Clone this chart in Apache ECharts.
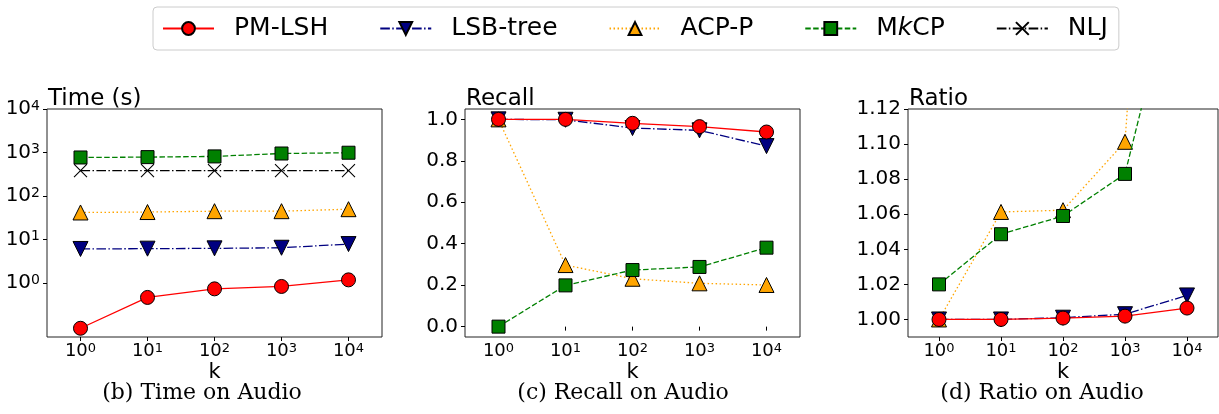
<!DOCTYPE html>
<html>
<head>
<meta charset="utf-8">
<script src="https://cdn.jsdelivr.net/npm/echarts@6/dist/echarts.min.js"></script>
<style>
html, body { margin: 0; padding: 0; background: #ffffff; }
#chart { width: 1219px; height: 414px; }
</style>
</head>
<body>
<div id="chart"></div>
<script>
// k values on the x axis (shown as 10^0 .. 10^4)
var kValues = [1, 10, 100, 1000, 10000]
var methods = ['PM-LSH', 'LSB-tree', 'ACP-P', 'MkCP', 'NLJ']
var panelTitles = ['Time (s)', 'Recall', 'Ratio']
var captions = ['(b) Time on Audio', '(c) Recall on Audio', '(d) Ratio on Audio']

// y tick values for the three panels
var timeTicks = [1, 10, 100, 1000, 10000]
var recallTicks = [0, 0.2, 0.4, 0.6, 0.8, 1.0]
var ratioTicks = [1.00, 1.02, 1.04, 1.06, 1.08, 1.10, 1.12]

// (b) time, seconds, log scale
var timePM = [0.092, 0.47, 0.74, 0.84, 1.19]
var timeLSB = [6.1, 6.2, 6.3, 6.5, 7.9]
var timeACP = [42, 43, 45, 45, 50]
var timeMkCP = [770, 785, 815, 950, 990]
var timeNLJ = [385, 385, 385, 385, 385]

// (c) recall
var recallPM = [1.0, 1.0, 0.981, 0.965, 0.939]
var recallLSB = [1.0, 0.998, 0.958, 0.947, 0.871]
var recallACP = [1.0, 0.297, 0.231, 0.209, 0.201]
var recallMkCP = [0.0, 0.199, 0.273, 0.288, 0.381]

// (d) ratio (the last two ACP-P / MkCP points run off the top)
var ratioPM = [1.0, 1.0, 1.0008, 1.0019, 1.0065]
var ratioLSB = [1.0, 1.0, 1.001, 1.003, 1.0137]
var ratioACP = [1.0, 1.0613, 1.0623, 1.1013, 1.6]
var ratioMkCP = [1.02, 1.0486, 1.059, 1.083, 1.225]

var FONT = 'DejaVu Sans'

var styles = {
  'PM-LSH': { color: '#ff0000', symbol: 'circle', size: 14, rotate: 0, dash: 'solid', z: 6 },
  'LSB-tree': { color: '#000080', symbol: 'triangle', size: 15, rotate: 180, dash: [9.6, 2.4, 1.5, 2.4], z: 5 },
  'ACP-P': { color: '#ffa500', symbol: 'triangle', size: 15, rotate: 0, dash: [1.5, 2.5], z: 3 },
  'MkCP': { color: '#008000', symbol: 'rect', size: 13, rotate: 0, dash: [5.5, 2.4], z: 4 },
  'NLJ': { color: '#000000', symbol: 'path://M0,0L10,10M0,10L10,0', size: 13, rotate: 0, dash: [9.6, 2.4, 1.5, 2.4], z: 2 }
}

var grids = [
  { left: 47, top: 109, width: 335, height: 228 },
  { left: 465, top: 109, width: 335, height: 228 },
  { left: 908, top: 109, width: 310, height: 228 }
]
var captionX = [202, 623, 1042]

function makeSeries(name, data, idx) {
  var s = styles[name]
  return {
    name: name,
    type: 'line',
    xAxisIndex: idx,
    yAxisIndex: idx,
    data: data,
    z: s.z,
    clip: true,
    silent: true,
    symbol: s.symbol,
    symbolSize: s.size,
    symbolRotate: s.rotate,
    showAllSymbol: true,
    lineStyle: { color: s.color, width: 1.3, type: s.dash },
    itemStyle: { color: s.color, borderColor: '#000000', borderWidth: name === 'NLJ' ? 1.1 : 1 }
  }
}

function supLabel(e) {
  return '10{s|' + e + '}'
}

var chart = echarts.init(document.getElementById('chart'))

var xAxes = grids.map(function(g, i) {
  return {
    type: 'category',
    gridIndex: i,
    data: kValues.map(String),
    boundaryGap: true,
    axisLine: { show: false },
    axisTick: { show: true, alignWithLabel: true, interval: 0, length: 4, lineStyle: { color: '#000' } },
    axisLabel: {
      interval: 0,
      margin: 5,
      color: '#000',
      fontFamily: FONT,
      fontSize: 18,
      formatter: function(v) { return supLabel(Math.round(Math.log10(+v))) },
      rich: { s: { fontSize: 13, fontFamily: FONT, color: '#000', verticalAlign: 'top' } }
    },
    splitLine: { show: false },
    name: 'k',
    nameLocation: 'middle',
    nameGap: 25,
    nameMoveOverlap: false,
    nameTextStyle: { fontFamily: FONT, fontSize: 21, color: '#000' }
  }
})

var yLabelBase = { color: '#000', fontFamily: FONT, fontSize: 20, margin: 7 }
var yTickBase = { show: true, length: 4, lineStyle: { color: '#000' } }

var yAxes = [
  {
    type: 'log',
    gridIndex: 0,
    logBase: 10,
    min: 0.058,
    max: 10000,
    axisLine: { show: false },
    axisTick: Object.assign({ customValues: timeTicks }, yTickBase),
    splitLine: { show: false },
    minorTick: { show: false },
    axisLabel: Object.assign({}, yLabelBase, {
      customValues: timeTicks,
      formatter: function(v) { return supLabel(Math.round(Math.log10(v))) },
      rich: { s: { fontSize: 14, fontFamily: FONT, color: '#000', verticalAlign: 'top' } }
    })
  },
  {
    type: 'value',
    gridIndex: 1,
    min: -0.05,
    max: 1.05,
    axisLine: { show: false },
    axisTick: Object.assign({ customValues: recallTicks }, yTickBase),
    splitLine: { show: false },
    axisLabel: Object.assign({}, yLabelBase, {
      customValues: recallTicks,
      formatter: function(v) { return v.toFixed(1) }
    })
  },
  {
    type: 'value',
    gridIndex: 2,
    min: 0.99,
    max: 1.12,
    axisLine: { show: false },
    axisTick: Object.assign({ customValues: ratioTicks }, yTickBase),
    splitLine: { show: false },
    axisLabel: Object.assign({}, yLabelBase, {
      customValues: ratioTicks,
      formatter: function(v) { return v.toFixed(2) }
    })
  }
]

var option = {
  animation: false,
  backgroundColor: '#ffffff',
  textStyle: { fontFamily: FONT },
  grid: grids.map(function(g) {
    return Object.assign({ show: true, borderColor: '#222', borderWidth: 1, backgroundColor: 'transparent', containLabel: false }, g)
  }),
  title: panelTitles.map(function(t, i) {
    return {
      text: t,
      left: grids[i].left + 1,
      top: 88,
      padding: 0,
      textStyle: { fontFamily: FONT, fontSize: 23, fontWeight: 'normal', color: '#000' }
    }
  }),
  legend: {
    data: methods,
    left: 153,
    top: 7,
    padding: [9, 11, 9, 9],
    itemGap: 51,
    itemWidth: 51,
    itemHeight: 16,
    borderColor: '#cccccc',
    borderWidth: 1,
    borderRadius: 4,
    selectedMode: false,
    formatter: function(name) {
      return name === 'MkCP' ? 'M{i|k}CP' : name
    },
    textStyle: {
      fontFamily: FONT,
      fontSize: 25,
      color: '#000',
      padding: [0, 0, 0, 15],
      rich: { i: { fontFamily: FONT, fontSize: 25, fontStyle: 'italic', color: '#000' } }
    }
  },
  xAxis: xAxes,
  yAxis: yAxes,
  graphic: captions.map(function(c, i) {
    return {
      type: 'text',
      x: captionX[i],
      y: 393,
      silent: true,
      style: {
        text: c,
        font: '22px "DejaVu Serif"',
        fill: '#000',
        align: 'center',
        verticalAlign: 'middle',
        textAlign: 'center',
        textVerticalAlign: 'middle'
      }
    }
  }),
  series: [
    makeSeries('NLJ', timeNLJ, 0),
    makeSeries('ACP-P', timeACP, 0),
    makeSeries('MkCP', timeMkCP, 0),
    makeSeries('LSB-tree', timeLSB, 0),
    makeSeries('PM-LSH', timePM, 0),
    makeSeries('ACP-P', recallACP, 1),
    makeSeries('MkCP', recallMkCP, 1),
    makeSeries('LSB-tree', recallLSB, 1),
    makeSeries('PM-LSH', recallPM, 1),
    makeSeries('ACP-P', ratioACP, 2),
    makeSeries('MkCP', ratioMkCP, 2),
    makeSeries('LSB-tree', ratioLSB, 2),
    makeSeries('PM-LSH', ratioPM, 2)
  ]
}

chart.setOption(option)
</script>
</body>
</html>
